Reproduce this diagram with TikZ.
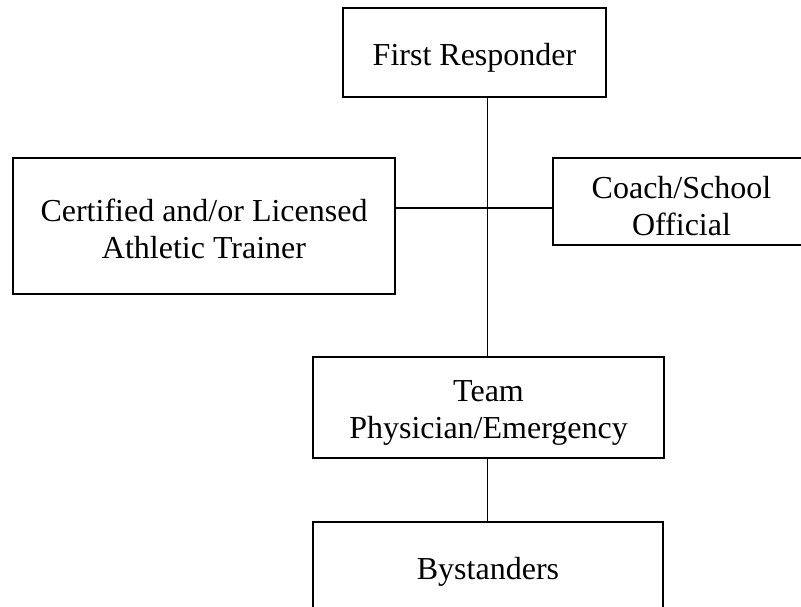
\documentclass[tikz,border=0pt]{standalone}
\usepackage{fontspec}
\setmainfont{Liberation Serif}
\begin{document}
\begin{tikzpicture}[x=1pt,y=-1pt,
  box/.style={draw, line width=1.5pt, inner sep=0pt},
  txt/.style={align=center, font=\fontsize{32}{36.7}\selectfont},
  conn/.style={line width=1.5pt}]
\useasboundingbox (0,0) rectangle (801,607);
\clip (0,0) rectangle (801,607);
\node[box, minimum width=263pt, minimum height=89pt,
  label={[txt, yshift=-5pt]center:First Responder}] (fr) at (474.5,52.5) {};
\node[box, minimum width=382pt, minimum height=136pt,
  label={[txt, yshift=-3pt]center:Certified and/or Licensed\\Athletic Trainer}] (cat) at (204,226) {};
\node[box, minimum width=257pt, minimum height=87pt,
  label={[txt, yshift=-4.5pt]center:Coach/School\\Official}] (coach) at (681.5,201.5) {};
\node[box, minimum width=351pt, minimum height=101pt,
  label={[txt, yshift=-5.5pt]center:Team\\Physician/Emergency}] (team) at (488.5,407.5) {};
\node[box, minimum width=350pt, minimum height=106pt,
  label={[txt, yshift=3.5pt]center:Bystanders}] (by) at (488,575) {};
\coordinate (hy) at (0,208);
\coordinate (vx) at (487.5,0);
\draw[conn] (vx |- fr.south) -- (vx |- team.north);
\draw[conn] (cat.east |- hy) -- (coach.west |- hy);
\draw[conn] (vx |- team.south) -- (vx |- by.north);
\end{tikzpicture}
\end{document}
